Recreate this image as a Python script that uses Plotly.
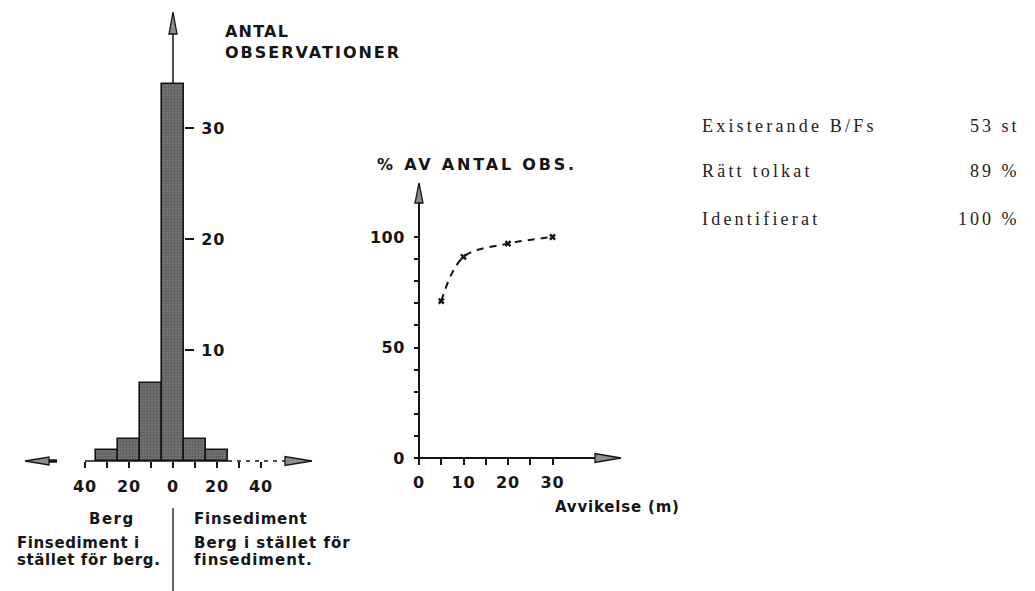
import plotly.graph_objects as go

W, H = 1035, 591

# ---------------- data ----------------
bin_centers = [-30, -20, -10, 0, 10, 20]
bin_counts = [1, 2, 7, 34, 2, 1]
bin_width = 10
hist_xtick_vals = [-40, -30, -20, -10, 0, 10, 20, 30, 40]
hist_xtick_text = ["40", "", "20", "", "0", "", "20", "", "40"]
hist_ytick_vals = [10, 20, 30]
hist_ytick_text = ["10", "20", "30"]

dev_m = [5, 10, 20, 30]
pct_obs = [71, 91, 97, 100]
pct_ytick_vals = [0, 10, 20, 30, 40, 50, 60, 70, 80, 90, 100]
pct_ytick_text = ["0", "", "", "", "", "50", "", "", "", "", "100"]
pct_xtick_vals = [0, 5, 10, 15, 20, 25, 30]
pct_xtick_text = ["0", "", "10", "", "20", "", "30"]

summary_labels = ["Existerande B/Fs", "Rätt tolkat", "Identifierat"]
summary_values = ["53 st", "89 %", "100 %"]

# ---------------- geometry (pixels) ----------------
def px(x):
    return x / W

def py(y):
    return 1 - y / H

# left histogram: x=0 at px 173, 2.2 px/unit; y=0 at px 461, 11.1 px/unit
L_X0, L_SX, L_Y0, L_SY = 173, 2.2, 461, 11.1
L_DOM_X = (5, 330)
L_DOM_Y = (475, 5)          # bottom, top in pixels
l_xrange = [(L_DOM_X[0] - L_X0) / L_SX, (L_DOM_X[1] - L_X0) / L_SX]
l_yrange = [(L_Y0 - L_DOM_Y[0]) / L_SY, (L_Y0 - L_DOM_Y[1]) / L_SY]

# right chart: x=0 at px 419, 4.45 px/unit; y=0 at px 458, 2.21 px/unit
R_X0, R_SX, R_Y0, R_SY = 419, 4.45, 458, 2.21
R_DOM_X = (400, 640)
R_DOM_Y = (472, 175)
r_xrange = [(R_DOM_X[0] - R_X0) / R_SX, (R_DOM_X[1] - R_X0) / R_SX]
r_yrange = [(R_Y0 - R_DOM_Y[0]) / R_SY, (R_Y0 - R_DOM_Y[1]) / R_SY]

TECH = "DejaVu Sans"
SERIF = "Liberation Serif"
INK = "#151515"

def sp(text, ls):
    return f'<span style="letter-spacing:{ls}px">{text}</span>'

fig = go.Figure()

fig.add_trace(go.Bar(
    x=bin_centers, y=bin_counts, width=bin_width,
    marker=dict(color="#6a6a6a", line=dict(color=INK, width=1.6),
                pattern=dict(shape=".", fgcolor="#474747", bgcolor="#777777",
                             size=3, solidity=0.55)),
    xaxis="x", yaxis="y", hoverinfo="skip",
))

fig.add_trace(go.Scatter(
    x=dev_m, y=pct_obs, mode="lines+markers",
    line=dict(color=INK, width=2, dash="7px,6px", shape="spline", smoothing=1.0),
    marker=dict(symbol="x", size=6, color=INK),
    xaxis="x2", yaxis="y2", hoverinfo="skip",
))

tickfont = dict(family=TECH, size=16, color=INK, weight="bold")

fig.update_layout(
    width=W, height=H, autosize=False,
    margin=dict(l=0, r=0, t=0, b=0, pad=0, autoexpand=False),
    paper_bgcolor="white", plot_bgcolor="rgba(0,0,0,0)",
    showlegend=False, bargap=0,
    xaxis=dict(domain=[px(L_DOM_X[0]), px(L_DOM_X[1])], range=l_xrange,
               anchor="free", position=py(L_Y0),
               showgrid=False, zeroline=False, showline=False, automargin=False,
               tickmode="array", tickvals=hist_xtick_vals,
               ticktext=[sp(t, 1) for t in hist_xtick_text],
               ticks="outside", ticklen=6, tickwidth=1.6, tickcolor=INK,
               ticklabelstandoff=5, tickfont=tickfont),
    yaxis=dict(domain=[py(L_DOM_Y[0]), py(L_DOM_Y[1])], range=l_yrange,
               anchor="free", side="right", position=px(L_X0 + 5 * L_SX),
               showgrid=False, zeroline=False, showline=False, automargin=False,
               tickmode="array", tickvals=hist_ytick_vals,
               ticktext=[sp(t, 1) for t in hist_ytick_text],
               ticks="outside", ticklen=9, tickwidth=1.6, tickcolor=INK,
               ticklabelstandoff=4, tickfont=tickfont),
    xaxis2=dict(domain=[px(R_DOM_X[0]), px(R_DOM_X[1])], range=r_xrange,
                anchor="free", position=py(R_Y0),
                showgrid=False, zeroline=False, showline=False, automargin=False,
                tickmode="array", tickvals=pct_xtick_vals,
                ticktext=[sp(t, 1) for t in pct_xtick_text],
                ticks="outside", ticklen=6, tickwidth=1.6, tickcolor=INK,
                ticklabelstandoff=4, tickfont=tickfont),
    yaxis2=dict(domain=[py(R_DOM_Y[0]), py(R_DOM_Y[1])], range=r_yrange,
                anchor="free", position=px(R_X0),
                showgrid=False, zeroline=False, showline=False, automargin=False,
                tickmode="array", tickvals=pct_ytick_vals,
                ticktext=[sp(t, 0.5) for t in pct_ytick_text],
                ticks="outside", ticklen=5, tickwidth=1.6, tickcolor=INK,
                ticklabelstandoff=6, tickfont=tickfont),
)

shapes = []

def line(xref, yref, x0, y0, x1, y1, width=1.6, dash=None, color=INK):
    d = dict(type="line", xref=xref, yref=yref, x0=x0, y0=y0, x1=x1, y1=y1,
             line=dict(color=color, width=width))
    if dash:
        d["line"]["dash"] = dash
    shapes.append(d)

def arrowhead(xref, yref, x, y, direction, length=22, halfw=4.5):
    # path in pixels relative to the tip (pixel y is up)
    if direction == "up":
        path = f"M0,0 L{-halfw},{-length} L{halfw},{-length} Z"
    elif direction == "left":
        path = f"M0,0 L{length},{halfw} L{length},{-halfw} Z"
    else:  # right
        path = f"M0,0 L{-length},{halfw} L{-length},{-halfw} Z"
    shapes.append(dict(type="path", xref=xref, yref=yref,
                       xsizemode="pixel", ysizemode="pixel",
                       xanchor=x, yanchor=y, path=path,
                       fillcolor="#8c8c8c", line=dict(color=INK, width=1.3)))

# left chart axes
top_tip = (L_Y0 - 12) / L_SY
line("x", "y", 0, max(bin_counts), 0, top_tip - 1, width=1.5)
arrowhead("x", "y", 0, top_tip, "up", length=22, halfw=4)
line("x", "y", -40, 0, 25, 0, width=1.6)
line("x", "y", 25, 0, 52, 0, width=1.4, dash="4px,5px")
line("x", "y", (40 - L_X0) / L_SX, 0, (57 - L_X0) / L_SX, 0, width=3.5)
arrowhead("x", "y", (25 - L_X0) / L_SX, 0, "left", length=24, halfw=4)
arrowhead("x", "y", (312 - L_X0) / L_SX, 0, "right", length=27, halfw=4.5)

# right chart axes
r_ytip = (R_Y0 - 183) / R_SY
r_xtip = (621 - R_X0) / R_SX
line("x2", "y2", 0, 0, 0, r_ytip - 2, width=2)
arrowhead("x2", "y2", 0, r_ytip, "up", length=20, halfw=4)
line("x2", "y2", 0, 0, r_xtip - 2, 0, width=2)
arrowhead("x2", "y2", r_xtip, 0, "right", length=26, halfw=4.5)

# divider under the left chart
shapes.append(dict(type="line", xref="paper", yref="paper",
                   x0=px(173), x1=px(173), y0=py(508), y1=0,
                   line=dict(color="#333", width=1.5)))

fig.update_layout(shapes=shapes)

ann = []

def text(t, x, y, anchor="left", size=16, family=TECH, ls=1.0, color=INK, weight="bold"):
    ann.append(dict(text=sp(t, ls), x=px(x), y=py(y), xref="paper", yref="paper",
                    xanchor=anchor, yanchor="middle", showarrow=False,
                    font=dict(family=family, size=size, color=color, weight=weight)))

text("ANTAL", 223, 31, ls=1.2)
text("OBSERVATIONER", 223, 52.5, ls=2.0)
text("% AV ANTAL OBS.", 375, 164, ls=2.8)
text("Avvikelse (m)", 553, 507, size=15, ls=0.8)
text("Berg", 112, 519, anchor="center", size=15, ls=1.5)
text("Finsediment i", 15, 543, size=15, ls=0.6)
text("stället för berg.", 15, 560, size=15, ls=0.6)
text("Finsediment", 192, 519, size=15, ls=0.8)
text("Berg i stället för", 192, 543, size=15, ls=1.0)
text("finsediment.", 192, 560, size=15, ls=1.0)

rows_y = [126, 171, 219]
for lab, val, yy in zip(summary_labels, summary_values, rows_y):
    text(lab, 700, yy, family=SERIF, size=18, ls=3.2, color="#222", weight="normal")
    text(val, 1022, yy, anchor="right", family=SERIF, size=18, ls=3, color="#222",
         weight="normal")

fig.update_layout(annotations=ann)

fig.write_html("out.html")
